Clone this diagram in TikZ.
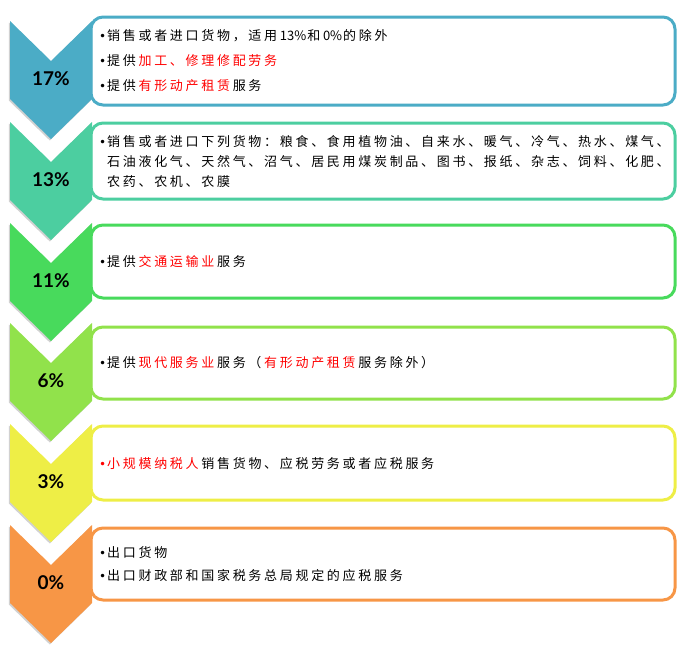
\documentclass[tikz,border=0pt]{standalone}
\usepackage{fontspec}
\newfontfamily\cjk{Noto Sans CJK SC}
\newfontfamily\pctfont{Lato}
\newfontfamily\djv{DejaVu Sans}
\usetikzlibrary{shadows}
\definecolor{cA}{RGB}{75,172,198}
\definecolor{cB}{RGB}{76,206,160}
\definecolor{cC}{RGB}{72,218,92}
\definecolor{cD}{RGB}{145,226,75}
\definecolor{cE}{RGB}{238,238,70}
\definecolor{cF}{RGB}{247,150,70}
\makeatletter
\def\spc#1{\spc@#1\spc@end}
\def\spc@end{\spc@end}
\def\spc@#1{\ifx#1\spc@end\else#1\kern2.7pt\expandafter\spc@\fi}
\makeatother
\newcommand{\bul}{\makebox[9pt][l]{\kern1pt{\djv\fontsize{12}{12}\selectfont •}}}
\newcommand{\nob}{\makebox[9pt][l]{}}
\newcommand{\rd}[1]{\textcolor{red}{#1}}
\tikzset{
  chev/.style={fill=#1, draw=none, drop shadow={shadow xshift=-1.2pt, shadow yshift=-1.5pt, opacity=0.3, fill=black!60}},
  rbox/.style={draw=#1, line width=3pt, rounded corners=12pt, fill=white},
  pct/.style={font=\pctfont\bfseries\fontsize{19}{19}\selectfont, text=black, inner sep=0pt},
  txt/.style={anchor=west, inner sep=0pt, align=left, text=black}
}
\begin{document}
\begin{tikzpicture}[x=1pt,y=-1pt]
\useasboundingbox (0,0) rectangle (682,649);
% boxes
\draw[rbox=cA] (91,17) rectangle (675,105);
\draw[rbox=cB] (91,123) rectangle (675,199);
\draw[rbox=cC] (91,225) rectangle (675,298);
\draw[rbox=cD] (91,327) rectangle (675,399);
\draw[rbox=cE] (91,426) rectangle (675,500);
\draw[rbox=cF] (91,528) rectangle (675,600);
% chevrons
\foreach \t/\c/\n in {21/cA/1,122/cB/2,223/cC/3,323/cD/4,424/cE/5,525/cF/6}{
  \path[chev=\c] (10,\t) -- (51,\t+40) -- (92,\t) -- (92,\t+78) -- (51,\t+118) -- (10,\t+78) -- cycle;
}
% percentage labels
\node[pct] (p1) at (51,79) {17\%};
\node[pct] (p2) at (51,180) {13\%};
\node[pct] (p3) at (51,281) {11\%};
\node[pct] (p4) at (51,381) {6\%};
\node[pct] (p5) at (51,482) {3\%};
\node[pct] (p6) at (51,583) {0\%};
% texts
\node[txt, font=\cjk\fontsize{13}{25}\selectfont] (t1) at (98,61)
  {\bul\spc{销售或者进口货物，适用}13\%\kern1pt\spc{和}0\%\kern1pt\spc{的除外}\\
   \bul\spc{提供}\rd{\spc{加工、修理修配劳务}}\\
   \bul\spc{提供}\rd{\spc{有形动产租赁}}\spc{服务}};
\node[txt, font=\cjk\fontsize{13}{20}\selectfont] (t2) at (98,162)
  {\bul\spc{销售或者进口下列货物：粮食、食用植物油、自来水、暖气、冷气、热水、煤气、}\\
   \nob\spc{石油液化气、天然气、沼气、居民用煤炭制品、图书、报纸、杂志、饲料、化肥、}\\
   \nob\spc{农药、农机、农膜}};
\node[txt, font=\cjk\fontsize{13}{23}\selectfont] (t3) at (98,262)
  {\bul\spc{提供}\rd{\spc{交通运输业}}\spc{服务}};
\node[txt, font=\cjk\fontsize{13}{23}\selectfont] (t4) at (98,363)
  {\bul\spc{提供}\rd{\spc{现代服务业}}\spc{服务（}\rd{\spc{有形动产租赁}}\spc{服务除外）}};
\node[txt, font=\cjk\fontsize{13}{23}\selectfont] (t5) at (98,464)
  {\rd{\bul\spc{小规模纳税人}}\spc{销售货物、应税劳务或者应税服务}};
\node[txt, font=\cjk\fontsize{13}{23}\selectfont] (t6) at (98,564)
  {\bul\spc{出口货物}\\
   \bul\spc{出口财政部和国家税务总局规定的应税服务}};
\end{tikzpicture}
\end{document}
